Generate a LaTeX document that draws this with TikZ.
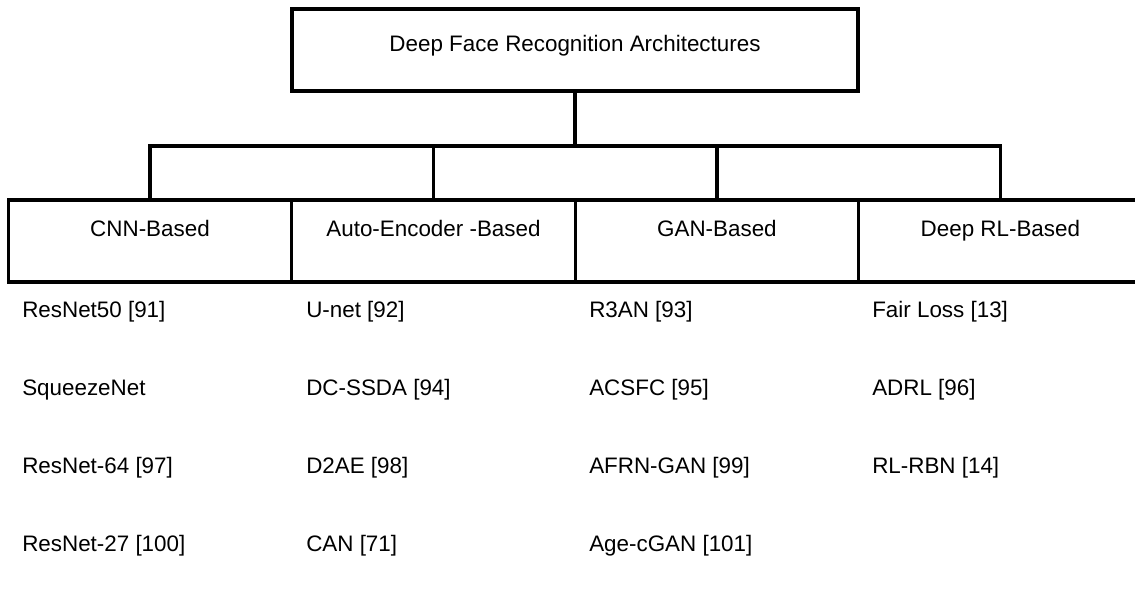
\documentclass[tikz,border=0pt]{standalone}
\usepackage{fontspec}
\setmainfont{Liberation Sans}
\usetikzlibrary{shapes,arrows}
\tikzstyle{rootbox} = [rectangle, draw, line width=2.4pt, inner sep=0pt,
    minimum width=424.5pt, text height=32pt, text depth=29.5pt]
\tikzstyle{catbox} = [rectangle, draw, line width=2.4pt, inner sep=0pt,
    minimum width=212.6pt, text height=27.5pt, text depth=34pt]
\tikzstyle{item} = [anchor=west, inner sep=0pt]
\tikzstyle{line} = [draw, line width=2.4pt]

\begin{document}
\begin{tikzpicture}[x=0.75pt, y=-0.75pt, font=\fontsize{16.8}{20}\selectfont]

    \useasboundingbox (0,0) rectangle (1135,590);

    % Place nodes
    \node [rootbox] (root) at (575,50) {Deep Face Recognition Architectures};
    \coordinate (bar) at (575,146);

    \node [catbox] (cnn) at (150,241) {CNN-Based};
    \node [catbox, right of=cnn, node distance=212.6pt] (ae) {Auto-Encoder -Based};
    \node [catbox, right of=ae, node distance=212.6pt] (gan) {GAN-Based};
    \node [catbox, right of=gan, node distance=212.6pt] (drl) {Deep RL-Based};

    % Methods under each family
    \node [item] (cnn1) at (22,312) {ResNet50 [91]};
    \node [item] (cnn2) at (22,390) {SqueezeNet};
    \node [item] (cnn3) at (22,468) {ResNet-64 [97]};
    \node [item] (cnn4) at (22,546) {ResNet-27 [100]};

    \node [item] (ae1) at (306,312) {U-net [92]};
    \node [item] (ae2) at (306,390) {DC-SSDA [94]};
    \node [item] (ae3) at (306,468) {D2AE [98]};
    \node [item] (ae4) at (306,546) {CAN [71]};

    \node [item] (gan1) at (589,312) {R3AN [93]};
    \node [item] (gan2) at (589,390) {ACSFC [95]};
    \node [item] (gan3) at (589,468) {AFRN-GAN [99]};
    \node [item] (gan4) at (589,546) {Age-cGAN [101]};

    \node [item] (drl1) at (872,312) {Fair Loss [13]};
    \node [item] (drl2) at (872,390) {ADRL [96]};
    \node [item] (drl3) at (872,468) {RL-RBN [14]};

    % Draw edges
    \path [line] (root.south) -- (bar);
    \path [line]
    (cnn.north) -- (cnn.north |- bar)
    -- (drl.north |- bar) -- (drl.north);
    \path [line] (ae.north |- bar) -- (ae.north);
    \path [line] (gan.north |- bar) -- (gan.north);

\end{tikzpicture}
\end{document}
